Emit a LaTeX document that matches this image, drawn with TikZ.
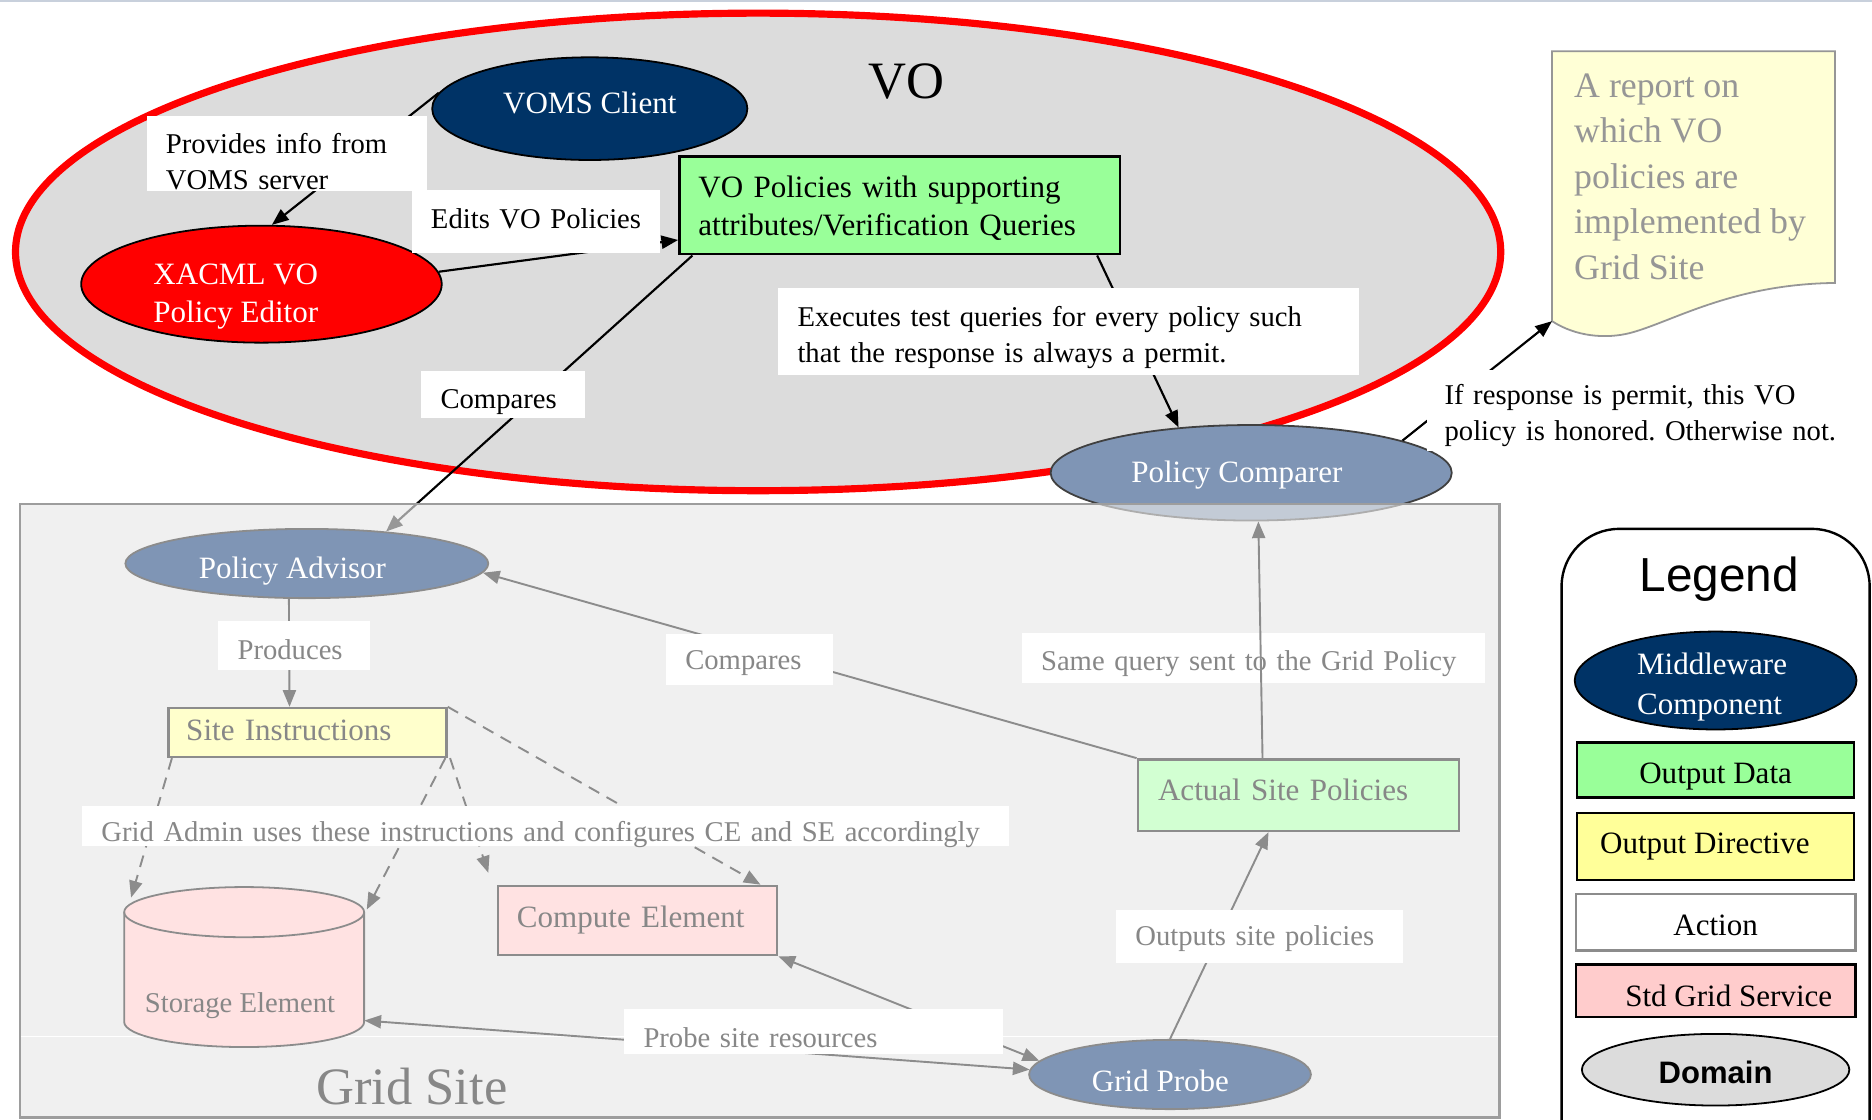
\documentclass[tikz,border=0pt]{standalone}
\usepackage{fontspec}
\setmainfont{Liberation Serif}
\newfontfamily\legendsans{Liberation Sans}
\usetikzlibrary{shapes.geometric,arrows.meta}

\pgfdeclarelayer{fade}
\pgfdeclarelayer{front}
\pgfsetlayers{main,fade,front}

\definecolor{vofill}{RGB}{220,220,220}
\definecolor{navy}{RGB}{0,51,102}
\definecolor{outgreen}{RGB}{153,255,153}
\definecolor{outyellow}{RGB}{255,255,153}
\definecolor{stdpink}{RGB}{255,204,204}
\definecolor{steel}{RGB}{127,149,181}
\definecolor{fadeline}{RGB}{140,140,140}
\definecolor{fadetext}{RGB}{135,135,135}
\definecolor{gridbg}{RGB}{232,232,232}
\definecolor{fadeyellow}{RGB}{255,255,204}
\definecolor{fadepink}{RGB}{255,226,226}
\definecolor{fadegreen}{RGB}{210,255,210}
\definecolor{notefill}{RGB}{255,255,214}
\definecolor{notetext}{RGB}{150,150,150}
\definecolor{topline}{RGB}{200,208,220}

% lift or lower a text without changing its box
\newcommand{\nudge}[2]{\raisebox{#1}[\height][\depth]{#2}}
% left-aligned block of lines
\newcommand{\lineblock}[1]{\begin{tabular}{@{}l@{}}#1\end{tabular}}

\tikzset{
  >={Triangle[length=14pt,width=11pt]},
  lbl/.style={rectangle, fill=white, inner xsep=16pt, inner ysep=0pt, align=left,
    font=\fontsize{24}{30}\selectfont},
  flbl/.style={lbl, text=fadetext},
  conn/.style={draw=black, line width=1.8pt, ->},
  fconn/.style={draw=fadeline, line width=1.6pt, ->},
  fconnboth/.style={draw=fadeline, line width=1.6pt, <->},
  fdash/.style={fconn, dash pattern=on 10pt off 7pt},
  midware/.style={ellipse, draw=black, line width=1.5pt, fill=navy, text=white,
    inner sep=0pt, font=\fontsize{26}{32}\selectfont},
  gridoval/.style={ellipse, draw=fadeline, line width=1.5pt, fill=steel, text=white,
    inner sep=0pt, font=\fontsize{26}{32}\selectfont},
  gridbox/.style={rectangle, draw=fadeline, line width=2pt, text=fadetext,
    inner ysep=0pt, align=left, font=\fontsize{26}{32}\selectfont},
  legbox/.style={rectangle, draw=black, line width=2pt, inner sep=0pt,
    font=\fontsize{26}{32}\selectfont},
}

\begin{document}
\frenchspacing
\begin{tikzpicture}[x=1pt,y=-1pt]
\useasboundingbox (0,0) rectangle (1568,938);
\draw[topline, line width=2pt] (0,1) -- (1568,1);

% ---------------- Grid Site contents (front layer) ----------------
\begin{pgfonlayer}{front}
  \node[gridoval, minimum width=304pt, minimum height=58pt] (pa) at (257,472)
    {\nudge{-6pt}{Policy Advisor}\hspace*{24pt}};
  \node[gridbox, fill=fadeyellow, minimum width=233pt, minimum height=41pt,
        text width=203pt, inner xsep=15pt] (si) at (257.5,613.5) {\nudge{2pt}{Site Instructions}};
  \node[gridbox, fill=fadegreen, minimum width=269pt, minimum height=60pt,
        text width=235pt, inner xsep=17pt] (asp) at (1087.5,666) {\nudge{4pt}{Actual Site Policies}};
  \node[gridbox, fill=fadepink, minimum width=234pt, minimum height=58pt,
        text width=202pt, inner xsep=16pt] (ce) at (534,771) {Compute Element};
  \node[gridoval, minimum width=236pt, minimum height=58pt] (gp) at (980,900)
    {\nudge{-5pt}{Grid Probe}\hspace*{16pt}};

  % storage element cylinder
  \node[rectangle, minimum width=201pt, minimum height=134pt, inner sep=0pt] (se) at (204.5,810) {};
  \path[draw=fadeline, fill=fadepink, line width=1.5pt]
    (104,764) -- (104,856) arc[start angle=180, end angle=360, x radius=100.5pt, y radius=21pt]
    -- (305,764) arc[start angle=0, end angle=180, x radius=100.5pt, y radius=21pt] -- cycle;
  \draw[fadeline, line width=1.5pt]
    (104,764) arc[start angle=180, end angle=360, x radius=100.5pt, y radius=21pt];
  \node[text=fadetext, font=\fontsize{24}{28}\selectfont] (setext) at (201,842) {Storage Element};

  % connectors inside the site
  \draw[fconn] ([xshift=-15pt]pa.south) -- ([xshift=-15pt]si.north);
  \draw[fconn] (asp.north west) -- (pa.-3);
  \draw[fdash] ([xshift=4pt]si.south west) -- ([xshift=6pt,yshift=-9pt]se.north west);
  \draw[fdash] ([xshift=-2pt]si.south east) -- ([xshift=2pt,yshift=-19pt]se.north east);
  \draw[fdash] ([xshift=2pt]si.south east) -- ([xshift=-7pt,yshift=10pt]ce.north west);
  \draw[fdash] (si.north east) -- ([xshift=-15pt]ce.north east);
  \draw[fconn] (gp.north) -- ([xshift=-25pt]asp.south);
  \draw[fconnboth] (ce.south east) -- (gp.174);
  \draw[fconnboth] ([yshift=-112pt]se.north east) -- (gp.178);

  % action labels
  \node[flbl, minimum width=127pt, minimum height=41pt, text width=95pt] (lprod) at (246.5,540.5)
    {\nudge{-4pt}{Produces}};
  \node[flbl, minimum width=140pt, minimum height=43pt, text width=108pt] (lcmp2) at (628,552.5)
    {\nudge{-3pt}{Compares}};
  \node[flbl, minimum width=388pt, minimum height=42pt, text width=356pt] (lsame) at (1050,551)
    {\nudge{-5pt}{Same query sent to the Grid Policy}};
  \node[flbl, minimum width=776pt, minimum height=34pt, text width=744pt] (ladmin) at (457,692)
    {\nudge{-7pt}{Grid Admin uses these instructions and configures CE and SE accordingly}};
  \node[flbl, minimum width=240pt, minimum height=45pt, text width=208pt] (lout) at (1055,784.5)
    {\nudge{-2pt}{Outputs site policies}};
  \node[flbl, minimum width=317pt, minimum height=38pt, text width=285pt] (lprobe) at (681.5,864)
    {\nudge{-5pt}{Probe site resources}};

  \node[text=fadetext, font=\fontsize{44}{50}\selectfont] (gstitle) at (345,910) {Grid Site};
\end{pgfonlayer}

% ---------------- Grid Site domain (fade layer) ----------------
\begin{pgfonlayer}{fade}
  \fill[gridbg, fill opacity=0.65] (17,422) rectangle (1256,936);
  \draw[white, line width=1pt] (18,868) -- (1255,868);
  \draw[fadeline!85, line width=2pt] (17,422) rectangle (1256,936);
\end{pgfonlayer}

% ---------------- VO domain ----------------
\node[ellipse, draw=red, line width=6pt, fill=vofill, minimum width=1244pt,
      minimum height=400pt, inner sep=0pt] (vo) at (635,211) {};
\node[font=\fontsize{44}{50}\selectfont] (votitle) at (759,68) {VO};

\node[midware, minimum width=264pt, minimum height=86pt] (vc) at (494,91)
  {\nudge{5pt}{VOMS Client}};
\node[ellipse, draw=black, line width=1.5pt, fill=red, minimum width=302pt,
      minimum height=98pt, inner sep=0pt] (xe) at (219,238) {};
\node[anchor=west, text=white, font=\fontsize{26}{32}\selectfont] (xetext)
  at (125,248) {\lineblock{XACML VO\\Policy Editor}};
\node[rectangle, draw=black, line width=2pt, fill=outgreen, minimum width=369pt,
      minimum height=82pt, text width=337pt, inner xsep=16pt, inner ysep=0pt, align=left,
      font=\fontsize{26}{32}\selectfont] (vop) at (753.5,172)
  {\nudge{-3pt}{\lineblock{VO Policies with supporting\\attributes/Verification Queries}}};
\node[ellipse, draw=black!75, line width=1.5pt, fill=steel, text=white, minimum width=336pt,
      minimum height=80pt, inner sep=0pt, font=\fontsize{26}{32}\selectfont] (pc) at (1048,396)
  {\nudge{-2pt}{Policy Comparer}\hspace*{24pt}};

% the grid policy query reaches the comparer from inside the site
\begin{pgfonlayer}{front}
  \draw[fconn] ([xshift=-30pt]asp.north) -- ([xshift=6pt]pc.south);
\end{pgfonlayer}

% report document
\path[draw=notetext, line width=1.5pt, fill=notefill]
  (1300,43) -- (1537,43) -- (1537,237)
  .. controls (1450,238) and (1400,270) .. (1365,279)
  .. controls (1345,284) and (1320,282) .. (1300,269) -- cycle;
\coordinate (rep) at (1300,269);
\node[anchor=west, align=left, text=notetext, font=\fontsize{30}{38}\selectfont] (reptext)
  at (1315,148) {A report on\\which VO\\policies are\\implemented by\\Grid Site};

% connectors of the VO domain
\draw[conn] (vc.174) -- (xe.80);
\draw[conn] (xe.4) -- ([yshift=-29pt]vop.west);
\draw[conn] ([xshift=12pt]vop.south west) -- (pa.22);
\draw[conn] ([xshift=-20pt]vop.south east) -- (pc.148);
\draw[conn] (pc.12) -- (rep);

% action labels
\node[lbl, minimum width=235pt, minimum height=63pt, text width=203pt] (lprov) at (240.5,128.5)
  {\nudge{-9pt}{\lineblock{Provides info from\\VOMS server}}};
\node[lbl, minimum width=208pt, minimum height=53pt, text width=176pt] (ledit) at (449,185.5)
  {\nudge{2pt}{Edits VO Policies}};
\node[lbl, minimum width=137pt, minimum height=39pt, text width=105pt] (lcmp1) at (421.5,330.5)
  {\nudge{-6pt}{Compares}};
\node[lbl, minimum width=486pt, minimum height=73pt, text width=454pt] (lexec) at (895,277.5)
  {\nudge{-5pt}{\lineblock{Executes test queries for every policy such\\that the response is always a permit.}}};
\node[lbl, minimum width=365pt, minimum height=68pt, text width=335pt, inner xsep=15pt] (lresp)
  at (1377.5,344)
  {\nudge{-4pt}{\lineblock{If response is permit, this VO\\policy is honored. Otherwise not.}}};

% ---------------- Legend ----------------
\draw[line width=2pt, rounded corners=48pt, fill=white] (1308,443) rectangle (1566,990);
\node[font=\legendsans\fontsize{40}{46}\selectfont] (lgtitle) at (1440,485) {Legend};
\node[midware, minimum width=236pt, minimum height=82pt] (lgmid) at (1437,570) {};
\node[text=white, font=\fontsize{26}{33}\selectfont] (lgmidtext) at (1434,575)
  {\lineblock{Middleware\\Component}};
\node[legbox, fill=outgreen, minimum width=232pt, minimum height=46pt] (lgdata) at (1437,645)
  {\nudge{-5pt}{Output Data}};
\node[legbox, fill=outyellow, minimum width=232pt, minimum height=56pt] (lgdir) at (1437,709)
  {Output Directive\hspace*{18pt}};
\node[legbox, draw=black!45, fill=white, minimum width=234pt, minimum height=47pt] (lgact)
  at (1437,772.5) {\nudge{-3pt}{Action}};
\node[legbox, fill=stdpink, minimum width=234pt, minimum height=44pt] (lgstd) at (1437,830)
  {\hspace*{22pt}\nudge{-4pt}{Std Grid Service}};
\node[ellipse, draw=black, line width=1.5pt, fill=vofill, minimum width=224pt, minimum height=60pt,
      inner sep=0pt, font=\legendsans\bfseries\fontsize{26}{30}\selectfont] (lgdom) at (1437,896)
  {\nudge{-2pt}{Domain}};
\end{tikzpicture}
\end{document}
